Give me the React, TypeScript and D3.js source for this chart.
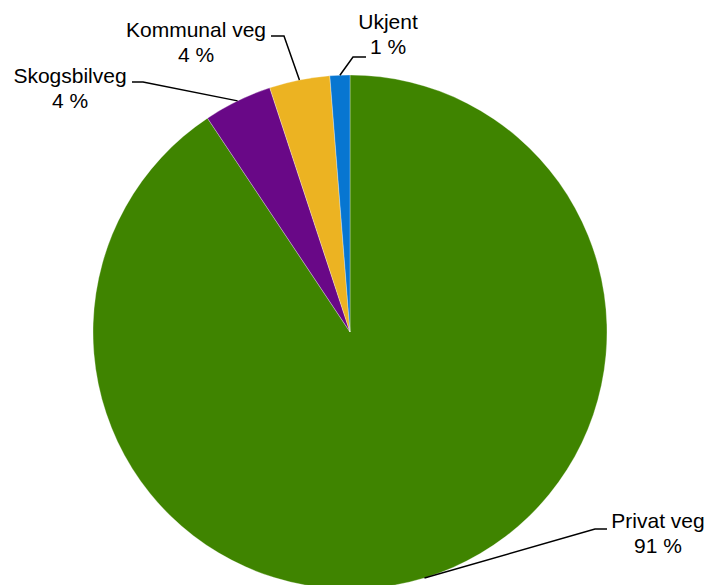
import React from "react";
import * as d3 from "d3";

const categories = ["Privat veg", "Skogsbilveg", "Kommunal veg", "Ukjent"];
const values = [90.6, 4.3, 3.8, 1.25];
const percentLabels = ["91 %", "4 %", "4 %", "1 %"];
const colors = ["#3f8400", "#690887", "#ecb322", "#0776d1"];

const W = 708;
const H = 585;
const CX = 350;
const CY = 332;
const R = 257;

// label layout: text center x, first baseline y, elbow start (near text), elbow x
const labelLayout = [
  { tx: 658, ty: 528, lx1: 607, ly: 529, lx2: 595 },
  { tx: 70, ty: 83, lx1: 132, ly: 82, lx2: 143 },
  { tx: 196, ty: 37, lx1: 271, ly: 36, lx2: 284 },
  { tx: 388, ty: 29, lx1: 366, ly: 57, lx2: 353 },
];

export default function App() {
  const data = categories.map((c, i) => ({ name: c, value: values[i], label: percentLabels[i], color: colors[i] }));
  const pie = d3.pie<any>().value((d) => d.value).sort(null).startAngle(0).endAngle(2 * Math.PI);
  const arcs = pie(data);
  const arc = d3.arc<any>().innerRadius(0).outerRadius(R);

  return (
    <svg width={W} height={H} style={{ position: "absolute", left: 0, top: 0, background: "#fff" }}
      fontFamily="'Liberation Sans', Arial, sans-serif">
      <g transform={`translate(${CX},${CY})`}>
        {arcs.map((a, i) => (
          <path key={i} d={arc(a) as string} fill={a.data.color} stroke="#ffffff" strokeWidth={0.3} />
        ))}
      </g>
      {arcs.map((a, i) => {
        const mid = (a.startAngle + a.endAngle) / 2;
        const ex = CX + R * Math.sin(mid);
        const ey = CY - R * Math.cos(mid);
        const L = labelLayout[i];
        return (
          <g key={i}>
            <polyline points={`${L.lx1},${L.ly} ${L.lx2},${L.ly} ${ex},${ey}`} fill="none" stroke="#000" strokeWidth={1.5} />
            <text x={L.tx} y={L.ty} textAnchor="middle" fontSize={21} fill="#000">{a.data.name}</text>
            <text x={L.tx} y={L.ty + 25} textAnchor="middle" fontSize={21} fill="#000">{a.data.label}</text>
          </g>
        );
      })}
    </svg>
  );
}
